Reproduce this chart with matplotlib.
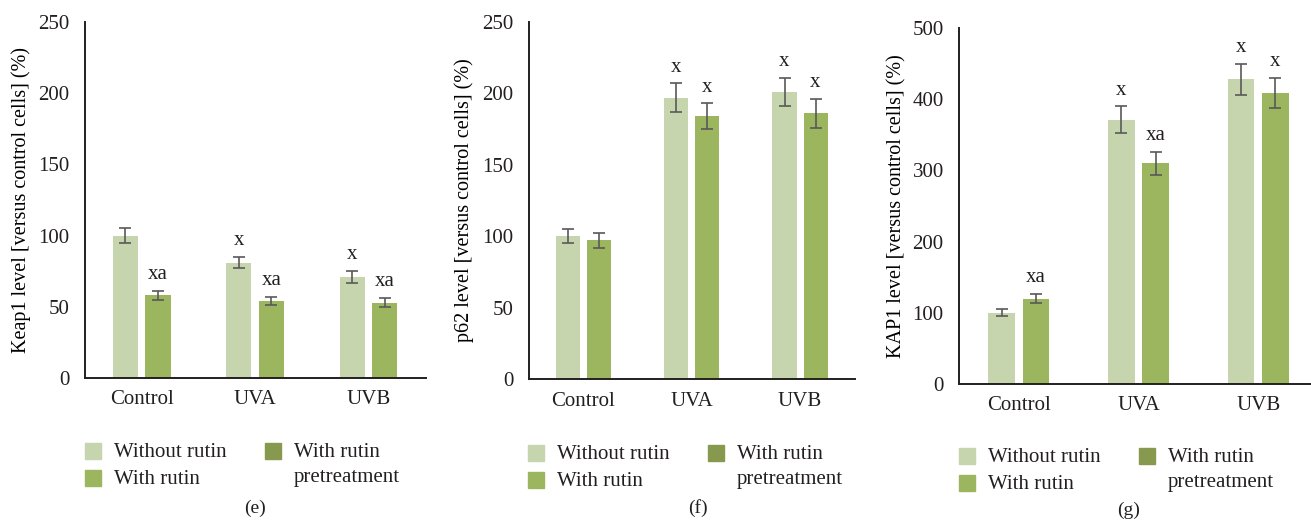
import numpy as np
import matplotlib
matplotlib.use('Agg')
import matplotlib.pyplot as plt
from matplotlib.patches import Rectangle

groups = ["Control", "UVA", "UVB"]

# panel (e) Keap1
keap1_without = [100, 81, 71]
keap1_without_err = [5, 4, 4]
keap1_with = [58, 54, 53]
keap1_with_err = [3, 3, 3]
keap1_marks_without = ["", "x", "x"]
keap1_marks_with = ["xa", "xa", "xa"]

# panel (f) p62
p62_without = [100, 197, 201]
p62_without_err = [5, 10, 10]
p62_with = [97, 184, 186]
p62_with_err = [5, 9, 10]
p62_marks_without = ["", "x", "x"]
p62_marks_with = ["", "x", "x"]

# panel (g) KAP1
kap1_without = [100, 371, 428]
kap1_without_err = [5, 19, 22]
kap1_with = [120, 310, 409]
kap1_with_err = [6, 16, 21]
kap1_marks_without = ["", "x", "x"]
kap1_marks_with = ["xa", "xa", "x"]

legend_labels = ["Without rutin", "With rutin", "With rutin\npretreatment"]

c_light = "#c6d5ad"
c_green = "#9bb65f"
c_dark = "#86994f"
c_err = "#595959"

plt.rcParams['font.family'] = ['Liberation Serif', 'DejaVu Serif']
plt.rcParams['text.color'] = '#231f20'

W, H = 1311, 531
fig = plt.figure(figsize=(W / 100, H / 100), dpi=100)


def px_axes(l, t, r, b):
    return fig.add_axes([l / W, 1 - b / H, (r - l) / W, (b - t) / H])


def draw_panel(ax, v1, e1, v2, e2, m1, m2, ymax, ystep, ylabel, xlim_right):
    x = np.arange(len(groups))
    w = 0.222
    off = 0.143
    ax.bar(x - off, v1, w, color=c_light)
    ax.bar(x + off, v2, w, color=c_green)
    ekw = dict(fmt='none', ecolor=c_err, elinewidth=1.2, capsize=4.5, capthick=1.2)
    ax.errorbar(x - off, v1, yerr=e1, **ekw)
    ax.errorbar(x + off, v2, yerr=e2, **ekw)
    for xi, v, e, m in zip(x - off, v1, e1, m1):
        if m:
            ax.annotate(m, (xi, v + e), xytext=(0, 8.5), textcoords='offset points',
                        ha='center', va='baseline', fontsize=15)
    for xi, v, e, m in zip(x + off, v2, e2, m2):
        if m:
            ax.annotate(m, (xi, v + e), xytext=(0, 8.5), textcoords='offset points',
                        ha='center', va='baseline', fontsize=15)
    ax.set_xlim(-0.5, xlim_right)
    ax.set_ylim(0, ymax)
    ax.set_yticks(np.arange(0, ymax + 1, ystep))
    ax.set_xticks(x)
    ax.set_xticklabels(groups)
    ax.tick_params(length=0, labelsize=15, pad=9, colors='#231f20')
    ax.tick_params(axis='y', pad=11)
    ax.spines['top'].set_visible(False)
    ax.spines['right'].set_visible(False)
    ax.spines['left'].set_linewidth(1.4)
    ax.spines['bottom'].set_linewidth(1.4)
    ax.spines['left'].set_color('#231f20')
    ax.spines['bottom'].set_color('#231f20')
    ax.set_ylabel(ylabel, fontsize=14.5)


def draw_legend(x0, y0, col2_x, caption, cap_x, cap_y):
    sq = 16
    colors = [c_light, c_green, c_dark]
    pos = [(x0, y0), (x0, y0 + 27), (col2_x, y0)]
    for (sx, sy), col, lab in zip(pos, colors, legend_labels):
        fig.patches.append(Rectangle((sx / W, 1 - (sy + sq) / H), sq / W, sq / H,
                                     transform=fig.transFigure, color=col))
        for i, line in enumerate(lab.split("\n")):
            fig.text((sx + 29) / W, 1 - (sy + sq / 2 + 6 + i * 25) / H, line,
                     fontsize=15, va='baseline', ha='left')
    fig.text(cap_x / W, 1 - cap_y / H, caption, fontsize=14, ha='center', va='center')


ax_e = px_axes(85, 22, 426, 378)
draw_panel(ax_e, keap1_without, keap1_without_err, keap1_with, keap1_with_err,
           keap1_marks_without, keap1_marks_with, 250, 50,
           "Keap1 level [versus control cells] (%)", 2.507)
ax_e.yaxis.set_label_coords(-54 / 341, 0.5)

ax_f = px_axes(529, 22, 855, 379)
draw_panel(ax_f, p62_without, p62_without_err, p62_with, p62_with_err,
           p62_marks_without, p62_marks_with, 250, 50,
           "p62 level [versus control cells] (%)", 2.507)
ax_f.yaxis.set_label_coords(-55 / 326, 0.5)

ax_g = px_axes(959, 28, 1311, 384)
draw_panel(ax_g, kap1_without, kap1_without_err, kap1_with, kap1_with_err,
           kap1_marks_without, kap1_marks_with, 500, 100,
           "KAP1 level [versus control cells] (%)", 2.44)
ax_g.yaxis.set_label_coords(-53 / 352, 0.5)

draw_legend(85, 443, 265, "(e)", 255, 508)
draw_legend(528, 445, 708, "(f)", 698, 508)
draw_legend(959, 448, 1139, "(g)", 1129, 510)

fig.savefig("out.png", dpi=100)
